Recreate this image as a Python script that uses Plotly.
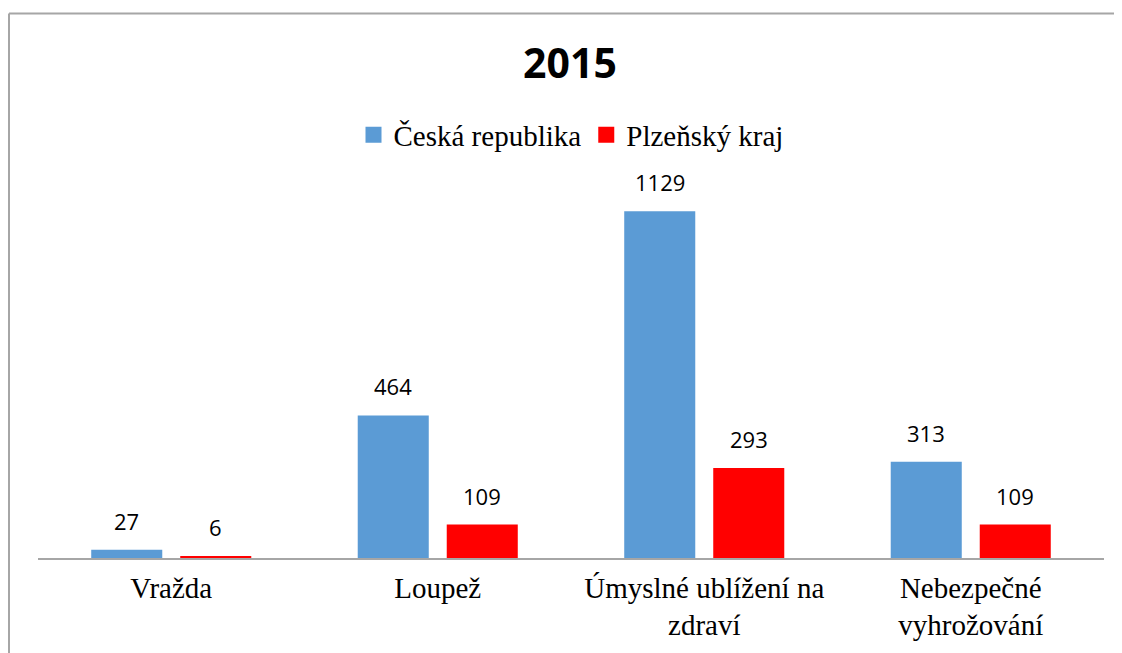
import plotly.graph_objects as go

categories = ["Vražda", "Loupež", "Úmyslné ublížení na zdraví", "Nebezpečné vyhrožování"]
tick_labels = ["Vražda", "Loupež", "Úmyslné ublížení na<br>zdraví", "Nebezpečné<br>vyhrožování"]
series_names = ["Česká republika", "Plzeňský kraj"]
cz_values = [27, 464, 1129, 313]
pk_values = [6, 109, 293, 109]
colors = ["#5B9BD5", "#FF0000"]
title_text = "2015"

fig = go.Figure()
for name, vals, col in zip(series_names, [cz_values, pk_values], colors):
    fig.add_trace(go.Bar(x=categories, y=vals, name=name, marker_color=col,
                         marker_line_width=0, showlegend=False, legendgroup=name))
    fig.add_trace(go.Scatter(x=[None], y=[None], mode="markers", name=name,
                             marker=dict(symbol="square", size=16, color=col),
                             legendgroup=name, showlegend=True))

# value labels
shifts = [-44.5, 44.5]
for vals, xs in zip([cz_values, pk_values], shifts):
    for c, v in zip(categories, vals):
        fig.add_annotation(x=c, y=v, text=str(v), showarrow=False, xshift=xs,
                           yshift=12, yanchor="bottom", xanchor="center",
                           font=dict(family="Open Sans", size=22, color="#000000"))

border_col = "#A6A6A6"
fig.add_shape(type="line", xref="paper", yref="paper", x0=-0.0272, x1=1.2,
              y0=1.2663, y1=1.2663, line=dict(color=border_col, width=2))
fig.add_shape(type="line", xref="paper", yref="paper", x0=-0.0272, x1=-0.0272,
              y0=1.2663, y1=-0.4, line=dict(color=border_col, width=2))

fig.update_layout(
    width=1114, height=645,
    margin=dict(l=30, r=18, t=120, b=95),
    paper_bgcolor="white", plot_bgcolor="white",
    bargap=0.332, bargroupgap=0.202, barmode="group",
    title=dict(text="<b>" + title_text + "</b>", x=0.5045, xanchor="center",
               y=0.914, yanchor="middle",
               font=dict(family="Open Sans", size=41, color="#000000")),
    legend=dict(orientation="h", x=0.5, xanchor="center", y=0.984, yanchor="middle",
                font=dict(family="Liberation Serif", size=29, color="#000000"),
                bgcolor="rgba(0,0,0,0)"),
    xaxis=dict(tickmode="array", tickvals=categories, ticktext=tick_labels,
               showline=True, linecolor="#A6A6A6", linewidth=1.5, ticks="",
               showgrid=False, zeroline=False, ticklabelstandoff=3,
               tickfont=dict(family="Liberation Serif", size=29, color="#000000")),
    yaxis=dict(range=[0, 1400], visible=False, showgrid=False, zeroline=False),
)

fig.write_html("out.html")
